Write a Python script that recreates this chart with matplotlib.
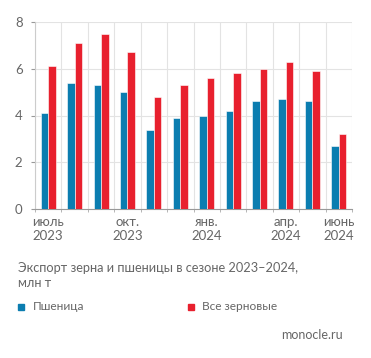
import matplotlib
matplotlib.use("Agg")
import matplotlib.pyplot as plt
import numpy as np

months = ["июль\n2023", "", "", "окт.\n2023", "", "", "янв.\n2024", "", "", "апр.\n2024", "", "июнь\n2024"]
wheat = [4.1, 5.4, 5.3, 5.0, 3.4, 3.9, 4.0, 4.2, 4.6, 4.7, 4.6, 2.7]
grain = [6.1, 7.1, 7.5, 6.7, 4.8, 5.3, 5.6, 5.8, 6.0, 6.3, 5.9, 3.2]
yticks = [0, 2, 4, 6, 8]

BLUE = "#0b7db0"
RED = "#e8202e"
GRAY = "#666666"

plt.rcParams['font.family'] = ['Lato', 'DejaVu Sans']

fig = plt.figure(figsize=(3.71, 3.58), dpi=100)
ax = fig.add_axes([35/371, 1-209/358, 317/371, 187/358])

x = np.arange(len(wheat))
w = 0.285
ax.bar(x - w/2, wheat, w, color=BLUE, edgecolor="white", linewidth=0.4, zorder=3)
ax.bar(x + w/2, grain, w, color=RED, edgecolor="white", linewidth=0.4, zorder=3)

ax.set_xlim(-0.5, len(wheat) - 0.5)
ax.set_ylim(0, 8)
ax.set_yticks(yticks)
ax.set_yticklabels([str(v) for v in yticks])
ax.set_xticks(x)
ax.set_xticklabels(months)
ax.set_xticks(np.arange(-0.5, len(wheat) + 0.5, 1), minor=True)

ax.grid(axis='y', color="#e3e3e3", linewidth=0.8, zorder=0)
ax.grid(axis='x', which='minor', color="#e3e3e3", linewidth=0.8, zorder=0)
ax.tick_params(axis='x', which='major', length=0, pad=5, labelsize=9.5, colors=GRAY)
ax.tick_params(axis='x', which='minor', length=2, color="#aaaaaa")
ax.tick_params(axis='y', length=3, pad=6, labelsize=9.5, colors=GRAY, color="#999999")
for s in ['top', 'right']:
    ax.spines[s].set_visible(False)
ax.spines['bottom'].set_color("#999999")
ax.spines['left'].set_color("#cccccc")
ax.spines['left'].set_linewidth(0.8)

fig.text(18/371, 1-262/358, "Экспорт зерна и пшеницы в сезоне 2023–2024,\nмлн т",
         fontsize=9.2, color=GRAY, va='top', ha='left', linespacing=1.3)

fig.patches.append(plt.Rectangle((18/371, 1-310/358), 6/371, 6/358, color=BLUE, transform=fig.transFigure))
fig.text(33/371, 1-307/358, "Пшеница", fontsize=8.6, color=GRAY, va='center', ha='left')
fig.patches.append(plt.Rectangle((188/371, 1-310/358), 6/371, 6/358, color=RED, transform=fig.transFigure))
fig.text(202/371, 1-307/358, "Все зерновые", fontsize=8.6, color=GRAY, va='center', ha='left')

fig.text(343/371, 1-335/358, "monocle.ru", fontsize=9, color=GRAY, va='center', ha='right')

fig.savefig("out.png", dpi=100)
